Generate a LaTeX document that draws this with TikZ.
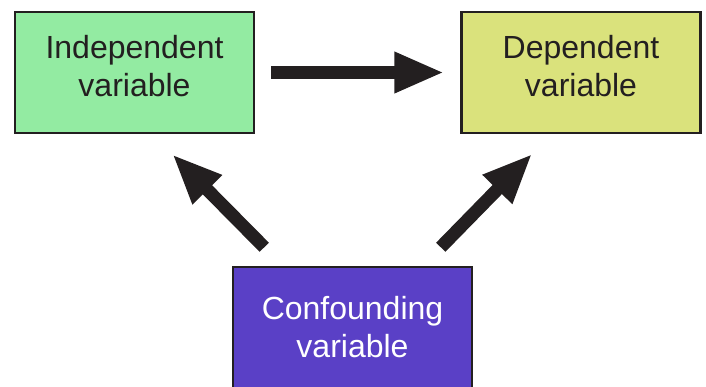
\documentclass[tikz,border=0pt]{standalone}
\usepackage{fontspec}
\setmainfont{Liberation Sans}
\usetikzlibrary{arrows.meta}
\definecolor{indgreen}{HTML}{93EBA2}
\definecolor{depyellow}{HTML}{DAE27C}
\definecolor{confpurple}{HTML}{5A40C6}
\definecolor{inkdark}{HTML}{231F20}
\begin{document}
\begin{tikzpicture}[x=1pt,y=-1pt,
  varbox/.style={draw=inkdark,line width=2.5pt,minimum width=239pt,minimum height=121pt,inner sep=0pt},
  vartext/.style={align=center,text=inkdark,font=\fontsize{32}{38}\selectfont},
  bigarrow/.style={draw=inkdark,line width=13pt,-{Triangle[length=50pt,width=38pt]}}]
\useasboundingbox (0,0) rectangle (706,386);

\node[varbox,fill=indgreen] (ind) at (134.5,72.5) {};
\node[vartext] (indtxt) at ([yshift=6pt]ind.center) {Independent\\variable};
\node[varbox,fill=depyellow] (dep) at (581,72.5) {};
\node[vartext] (deptxt) at ([yshift=6pt]dep.center) {Dependent\\variable};
\node[varbox,fill=confpurple,vartext,text=white] (conf) at (352.5,327.5) {Confounding\\variable};

\draw[bigarrow] ([xshift=16pt]ind.east) -- ([xshift=-16pt]dep.west);
\draw[bigarrow] ([shift={(32.5,-18.5)}]conf.north west) -- ([shift={(-83,20)}]ind.south east);
\draw[bigarrow] ([shift={(-32.5,-18.5)}]conf.north east) -- ([shift={(72,19.5)}]dep.south west);
\end{tikzpicture}
\end{document}
